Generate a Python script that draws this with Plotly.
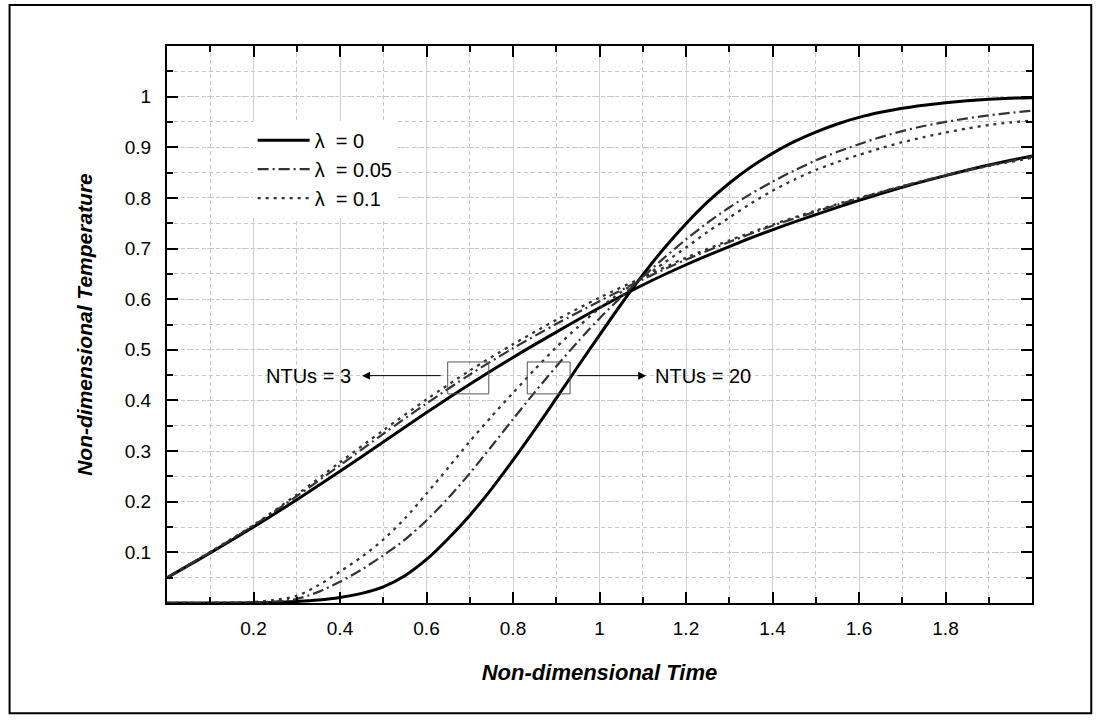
import plotly.graph_objects as go

# ---------------- data ----------------
t_ntu3 = [0.0, 0.1, 0.2, 0.3, 0.4, 0.5, 0.6, 0.7, 0.8, 0.9, 1.0,
          1.1, 1.2, 1.3, 1.4, 1.5, 1.6, 1.7, 1.8, 1.9, 2.0]
ntu3_lam0 = [0.050, 0.099, 0.150, 0.204, 0.260, 0.318, 0.376, 0.432, 0.485, 0.535, 0.583,
             0.628, 0.668, 0.704, 0.737, 0.767, 0.795, 0.821, 0.844, 0.865, 0.883]
ntu3_lam005 = [0.050, 0.100, 0.153, 0.211, 0.272, 0.334, 0.394, 0.451, 0.503, 0.551, 0.596,
               0.639, 0.678, 0.713, 0.745, 0.773, 0.799, 0.823, 0.845, 0.864, 0.881]
ntu3_lam01 = [0.050, 0.101, 0.154, 0.214, 0.278, 0.341, 0.402, 0.459, 0.511, 0.559, 0.603,
              0.643, 0.682, 0.716, 0.747, 0.775, 0.800, 0.823, 0.844, 0.863, 0.879]

t_ntu20 = [0.0, 0.05, 0.1, 0.15, 0.2, 0.25, 0.3, 0.35, 0.4, 0.45, 0.5, 0.55, 0.6, 0.65,
           0.7, 0.75, 0.8, 0.85, 0.9, 0.95, 1.0, 1.05, 1.1, 1.15, 1.2, 1.25, 1.3, 1.35,
           1.4, 1.45, 1.5, 1.55, 1.6, 1.65, 1.7, 1.75, 1.8, 1.85, 1.9, 1.95, 2.0]
ntu20_lam0 = [0.0, 0.0, 0.0, 0.0, 0.0005, 0.001, 0.003, 0.006, 0.011, 0.019, 0.032, 0.054,
              0.086, 0.127, 0.173, 0.225, 0.282, 0.342, 0.404, 0.467, 0.529, 0.590, 0.648,
              0.701, 0.749, 0.792, 0.829, 0.861, 0.888, 0.911, 0.930, 0.946, 0.959, 0.969,
              0.977, 0.983, 0.988, 0.992, 0.995, 0.997, 0.998]
ntu20_lam005 = [0.0, 0.0, 0.0, 0.0005, 0.001, 0.003, 0.008, 0.022, 0.042, 0.066, 0.094, 0.125,
                0.163, 0.207, 0.256, 0.309, 0.363, 0.416, 0.467, 0.516, 0.562, 0.604, 0.644,
                0.682, 0.718, 0.751, 0.781, 0.808, 0.832, 0.854, 0.874, 0.891, 0.906, 0.920,
                0.932, 0.942, 0.950, 0.957, 0.963, 0.968, 0.972]
ntu20_lam01 = [0.0, 0.0, 0.0005, 0.001, 0.002, 0.006, 0.014, 0.035, 0.062, 0.091, 0.125, 0.167,
               0.216, 0.267, 0.319, 0.368, 0.415, 0.461, 0.505, 0.545, 0.582, 0.614, 0.642,
               0.672, 0.702, 0.733, 0.761, 0.789, 0.814, 0.836, 0.855, 0.871, 0.885, 0.898,
               0.910, 0.920, 0.929, 0.937, 0.944, 0.949, 0.953]

legend_labels = ["λ\u00a0 = 0", "λ\u00a0 = 0.05", "λ\u00a0 = 0.1"]
x_tickvals = [0.2, 0.4, 0.6, 0.8, 1.0, 1.2, 1.4, 1.6, 1.8]
x_ticktext = ["0.2", "0.4", "0.6", "0.8", "1", "1.2", "1.4", "1.6", "1.8"]
y_tickvals = [0.1, 0.2, 0.3, 0.4, 0.5, 0.6, 0.7, 0.8, 0.9, 1.0]
y_ticktext = ["0.1", "0.2", "0.3", "0.4", "0.5", "0.6", "0.7", "0.8", "0.9", "1"]

FONT = "Arial, Liberation Sans, sans-serif"

styles = [
    dict(color="black", width=3, dash="solid"),
    dict(color="#333333", width=2.2, dash="11px,4px,2px,4px"),
    dict(color="#333333", width=2.3, dash="3px,5px"),
]

fig = go.Figure()
ntu3_series = [ntu3_lam0, ntu3_lam005, ntu3_lam01]
ntu20_series = [ntu20_lam0, ntu20_lam005, ntu20_lam01]
for i in range(3):
    fig.add_trace(go.Scatter(x=t_ntu3, y=ntu3_series[i], mode="lines",
                             line=dict(**styles[i], shape="spline", smoothing=0.8),
                             name=legend_labels[i], legendgroup="g%d" % i, showlegend=True))
    fig.add_trace(go.Scatter(x=t_ntu20, y=ntu20_series[i], mode="lines",
                             line=dict(**styles[i], shape="spline", smoothing=0.8),
                             name=legend_labels[i], legendgroup="g%d" % i, showlegend=False))

# boxes around the curve groups
fig.add_shape(type="rect", xref="x", yref="y", x0=0.649, x1=0.744, y0=0.413, y1=0.476,
              line=dict(color="#555555", width=1))
fig.add_shape(type="rect", xref="x", yref="y", x0=0.833, x1=0.932, y0=0.413, y1=0.476,
              line=dict(color="#555555", width=1))

# arrows
fig.add_annotation(x=0.451, y=0.449, ax=0.636, ay=0.449, xref="x", yref="y", axref="x", ayref="y",
                   text="", showarrow=True, arrowhead=2, arrowsize=1.6, arrowwidth=1, arrowcolor="black")
fig.add_annotation(x=1.108, y=0.449, ax=0.945, ay=0.449, xref="x", yref="y", axref="x", ayref="y",
                   text="", showarrow=True, arrowhead=2, arrowsize=1.6, arrowwidth=1, arrowcolor="black")
fig.add_annotation(x=0.328, y=0.449, xref="x", yref="y", text="NTUs = 3", showarrow=False,
                   font=dict(family=FONT, size=20, color="black"), xanchor="center")
fig.add_annotation(x=1.124, y=0.449, xref="x", yref="y", text="NTUs = 20", showarrow=False,
                   font=dict(family=FONT, size=20, color="black"), xanchor="left")

# outer frame
fig.add_shape(type="rect", xref="paper", yref="paper", x0=-0.182, x1=1.0685, y0=-0.198, y1=1.0736,
              line=dict(color="black", width=2), layer="below")

fig.update_layout(
    width=1099, height=722,
    margin=dict(l=167, r=67, t=46, b=118.5),
    paper_bgcolor="white", plot_bgcolor="white",
    font=dict(family=FONT, size=19, color="black"),
    legend=dict(x=0.099, y=0.866, xanchor="left", yanchor="top", bgcolor="white",
                font=dict(family=FONT, size=20), itemwidth=52, tracegroupgap=0,
                traceorder="grouped"),
)

fig.update_xaxes(
    range=[0, 2], tickmode="array", tickvals=x_tickvals, ticktext=x_ticktext,
    ticks="inside", ticklen=11, tickwidth=2, tickcolor="black",
    showline=True, linewidth=2, linecolor="black", mirror="ticks",
    showgrid=True, gridcolor="#cfcfcf", gridwidth=1, griddash="solid",
    zeroline=False, ticklabelstandoff=7,
    tickfont=dict(family=FONT, size=19),
    minor=dict(tickmode="linear", tick0=0, dtick=0.1, ticks="inside", ticklen=6, tickwidth=2,
               tickcolor="black", showgrid=True, gridcolor="#c8c8c8", gridwidth=1, griddash="4px,3px"),
    title=dict(text="<b><i>Non-dimensional Time</i></b>", font=dict(family=FONT, size=22), standoff=27),
)
fig.update_yaxes(
    range=[0, 1.1], tickmode="array", tickvals=y_tickvals, ticktext=y_ticktext,
    ticks="inside", ticklen=11, tickwidth=2, tickcolor="black",
    showline=True, linewidth=2, linecolor="black", mirror="ticks",
    showgrid=True, gridcolor="#c8c8c8", gridwidth=1, griddash="2px,3px",
    zeroline=False, ticklabelstandoff=10,
    tickfont=dict(family=FONT, size=19),
    minor=dict(tickmode="linear", tick0=0, dtick=0.05, ticks="inside", ticklen=6, tickwidth=2,
               tickcolor="black", showgrid=True, gridcolor="#c8c8c8", gridwidth=1, griddash="4px,3px"),
    title=dict(text="<b><i>Non-dimensional Temperature</i></b>", font=dict(family=FONT, size=21), standoff=26),
)

fig.write_html("out.html")
